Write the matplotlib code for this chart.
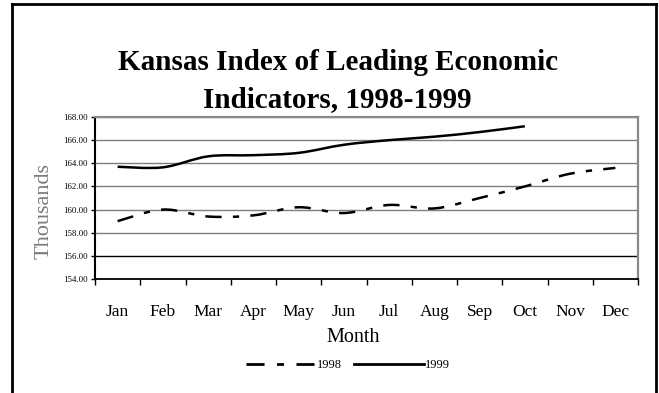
import numpy as np
import matplotlib
matplotlib.use("Agg")
import matplotlib.pyplot as plt
from matplotlib.path import Path
from matplotlib.patches import PathPatch
from matplotlib.lines import Line2D

plt.rcParams['font.family'] = ['Liberation Serif', 'DejaVu Serif']

months = ['Jan', 'Feb', 'Mar', 'Apr', 'May', 'Jun',
          'Jul', 'Aug', 'Sep', 'Oct', 'Nov', 'Dec']
index_1998 = [159.0, 160.0, 159.4, 159.5, 160.2, 159.7,
              160.4, 160.1, 161.0, 162.0, 163.1, 163.6]
index_1999 = [163.7, 163.65, 164.6, 164.7, 164.9, 165.6,
              166.0, 166.3, 166.7, 167.2]
y_ticks = [154.0, 156.0, 158.0, 160.0, 162.0, 164.0, 166.0, 168.0]

W, H, DPI = 659, 393, 100
fig = plt.figure(figsize=(W / DPI, H / DPI), dpi=DPI)

# axes box in pixel terms
left, right, top, bottom = 95, 638, 117, 279
ax = fig.add_axes([left / W, 1 - bottom / H, (right - left) / W, (bottom - top) / H])


def smooth_path(xs, ys):
    """Catmull-Rom style cubic Bezier through the points."""
    pts = np.column_stack([xs, ys]).astype(float)
    n = len(pts)
    verts = [pts[0]]
    codes = [Path.MOVETO]
    for i in range(n - 1):
        p0 = pts[i - 1] if i > 0 else pts[i]
        p1 = pts[i]
        p2 = pts[i + 1]
        p3 = pts[i + 2] if i + 2 < n else pts[i + 1]
        c1 = p1 + (p2 - p0) / 6.0
        c2 = p2 - (p3 - p1) / 6.0
        verts += [c1, c2, p2]
        codes += [Path.CURVE4] * 3
    return Path(verts, codes)


lw = 1.8
dash_style = (0, (6.5, 4.5, 2.5, 4.5))

x98 = np.arange(len(index_1998))
x99 = np.arange(len(index_1999))
ax.add_patch(PathPatch(smooth_path(x98, index_1998), fill=False,
                       edgecolor='black', lw=lw, linestyle=dash_style,
                       capstyle='butt', zorder=3))
ax.add_patch(PathPatch(smooth_path(x99, index_1999), fill=False,
                       edgecolor='black', lw=lw, zorder=3))

ax.set_xlim(-0.5, len(months) - 0.5)
ax.set_ylim(y_ticks[0], y_ticks[-1])

ax.set_yticks(y_ticks)
ax.set_yticklabels([f'{v:.2f}' for v in y_ticks], fontsize=6.3)
ax.tick_params(axis='y', direction='out', length=3, width=1, pad=2)

ax.set_xticks(np.arange(len(months)))
ax.set_xticklabels(months, fontsize=12.5)
ax.tick_params(axis='x', which='major', length=0, pad=18)
ax.set_xticks(np.arange(len(months) + 1) - 0.5, minor=True)
ax.tick_params(axis='x', which='minor', direction='out', length=4, width=1)

ax.yaxis.grid(True, color='#7f7f7f', lw=1)
ax.set_axisbelow(True)
grid = ax.get_ygridlines()
if len(grid) > 1:
    grid[1].set_color('black')

for side in ('top', 'right'):
    ax.spines[side].set_color('#8a8a8a')
    ax.spines[side].set_linewidth(1.6)
ax.spines['left'].set_color('black')
ax.spines['left'].set_linewidth(1.5)
ax.spines['bottom'].set_color('black')
ax.spines['bottom'].set_linewidth(1.3)

# titles and axis labels
fig.text(337.5 / W, 1 - 62 / H, 'Kansas Index of Leading Economic',
         ha='center', va='center', fontsize=21, fontweight='bold')
fig.text(337.5 / W, 1 - 100 / H, 'Indicators, 1998-1999',
         ha='center', va='center', fontsize=21, fontweight='bold')
fig.text(44 / W, 1 - 211 / H, 'Thousands', rotation=90, ha='center',
         va='center', fontsize=16, color='#7a7a7a')
fig.text(353 / W, 1 - 338 / H, 'Month', ha='center', va='center', fontsize=14.5)

# legend
handles = [Line2D([], [], color='black', lw=2, linestyle=dash_style),
           Line2D([], [], color='black', lw=2)]
fig.legend(handles, ['1998', '1999'], loc='center',
           bbox_to_anchor=(348 / W, 1 - 365 / H), ncol=2, frameon=False,
           fontsize=9, handlelength=5.6, handletextpad=0.05,
           columnspacing=1.0, borderpad=0)

# outer frame around the figure panel
frame_kw = dict(color='black', lw=2, transform=fig.transFigure, clip_on=False)
fig.add_artist(Line2D([12 / W, 12 / W], [0, 1 - 4 / H], **frame_kw))
fig.add_artist(Line2D([12 / W, 656 / W], [1 - 4 / H, 1 - 4 / H], **frame_kw))
fig.add_artist(Line2D([656 / W, 656 / W], [0, 1 - 4 / H], **frame_kw))

fig.savefig('out.png', dpi=DPI)
